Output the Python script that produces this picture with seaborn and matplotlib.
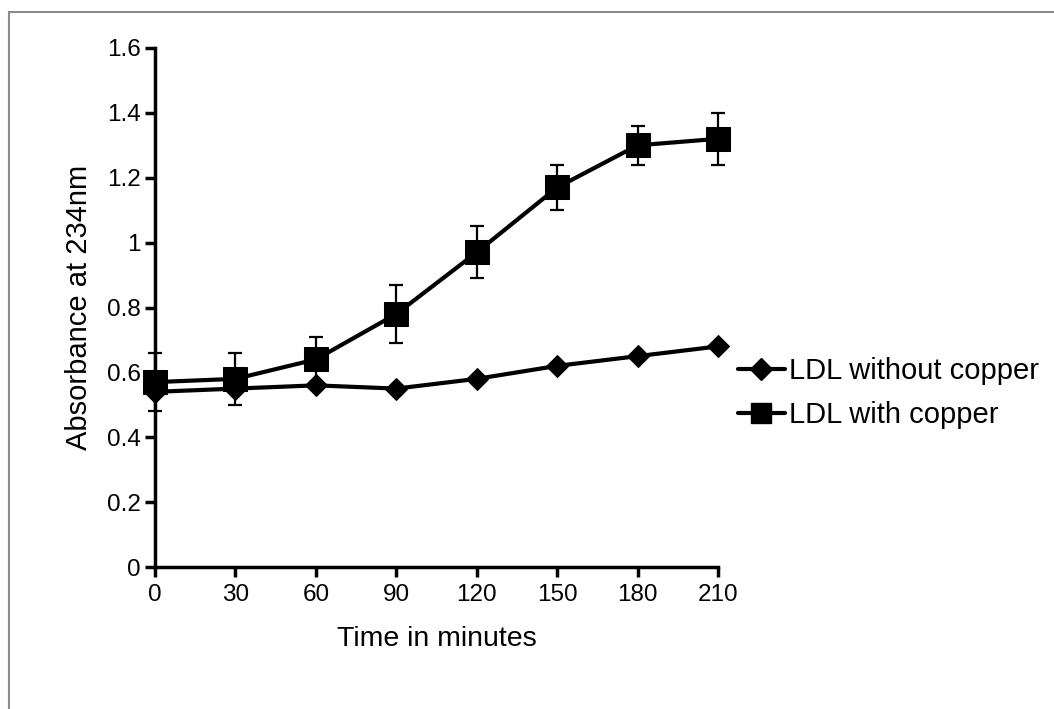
import numpy as np
import pandas as pd
import matplotlib
matplotlib.use("Agg")
import matplotlib.pyplot as plt
import seaborn as sns
from matplotlib.patches import Rectangle
from matplotlib.lines import Line2D

# =========================
# DATA
# =========================
time_min = [0, 30, 60, 90, 120, 150, 180, 210]
no_copper = [0.54, 0.55, 0.56, 0.55, 0.58, 0.62, 0.65, 0.68]
with_copper = [0.57, 0.58, 0.64, 0.78, 0.97, 1.17, 1.30, 1.32]
with_copper_err = [0.09, 0.08, 0.07, 0.09, 0.08, 0.07, 0.06, 0.08]
series_names = ["LDL without copper", "LDL with copper"]
y_ticks = [0, 0.2, 0.4, 0.6, 0.8, 1, 1.2, 1.4, 1.6]
y_tick_labels = ["0", "0.2", "0.4", "0.6", "0.8", "1", "1.2", "1.4", "1.6"]

df = pd.DataFrame({
    "time": time_min * 2,
    "absorbance": no_copper + with_copper,
    "series": [series_names[0]] * len(time_min) + [series_names[1]] * len(time_min),
})

# =========================
# STYLE
# =========================
sns.set_style("white")
plt.rcParams["font.family"] = ["Liberation Sans", "DejaVu Sans"]
plt.rcParams["text.color"] = "black"
plt.rcParams["axes.labelcolor"] = "black"

fig = plt.figure(figsize=(10.54, 7.09), dpi=100)
ax = fig.add_axes([155 / 1054, 1 - 567 / 709, 563 / 1054, 519 / 709])

# grey frame around the picture (only top/left visible in the reference)
fig.patches.append(Rectangle((9 / 1054, -0.1), 1.2, 1 - 12 / 709 + 0.1,
                             transform=fig.transFigure, fill=False,
                             edgecolor="#8c8c8c", linewidth=1.5))

sns.lineplot(data=df, x="time", y="absorbance", hue="series", style="series",
             palette=["black", "black"], markers=["D", "s"], dashes=False,
             linewidth=3, ax=ax, legend=False,
             markeredgecolor="black", zorder=3)
for line, ms in zip(ax.get_lines(), [11, 17]):
    line.set_markersize(ms)

ax.errorbar(time_min, with_copper, yerr=with_copper_err, fmt="none",
            ecolor="black", elinewidth=1.6, capsize=5, capthick=1.6, zorder=2)

ax.set_xlim(0, 210)
ax.set_ylim(0, 1.6)
ax.set_xticks(time_min)
ax.set_yticks(y_ticks)
ax.set_yticklabels(y_tick_labels)
ax.tick_params(axis="both", direction="out", length=7, width=2.5,
               labelsize=17.5, colors="black", left=True, bottom=True)
ax.tick_params(axis="x", pad=5)
ax.tick_params(axis="y", pad=3)
for side in ["left", "bottom"]:
    ax.spines[side].set_linewidth(2.5)
    ax.spines[side].set_color("black")
for side in ["top", "right"]:
    ax.spines[side].set_visible(False)
for art in ax.get_lines() + ax.collections:
    art.set_clip_on(False)

ax.set_xlabel("Time in minutes", fontsize=20.5, labelpad=15)
ax.set_ylabel("Absorbance at 234nm", fontsize=21, labelpad=10)

# legend (outside, right)
handles = [
    Line2D([], [], color="black", linewidth=3, marker="D", markersize=11),
    Line2D([], [], color="black", linewidth=3, marker="s", markersize=14),
]
fig.legend(handles, series_names, loc="center left",
           bbox_to_anchor=(738 / 1054, 1 - 393 / 709), frameon=False,
           prop={"size": 21}, handlelength=1.6,
           handletextpad=0.15, labelspacing=0.55, borderaxespad=0,
           borderpad=0)

plt.savefig("out.png", dpi=100)
